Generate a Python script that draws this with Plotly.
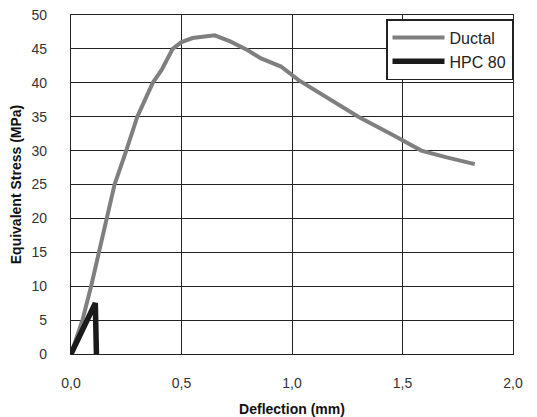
import plotly.graph_objects as go

# Data
ductal_x = [0, 0.052, 0.091, 0.126, 0.159, 0.197, 0.25, 0.30, 0.37, 0.41, 0.46, 0.50,
            0.55, 0.60, 0.65, 0.72, 0.80, 0.86, 0.95, 1.03, 1.15, 1.30, 1.45, 1.585,
            1.70, 1.827]
ductal_y = [0, 5, 10, 15, 20, 25, 30, 35, 40, 41.9, 45, 46.0,
            46.6, 46.8, 47.0, 46.1, 44.8, 43.6, 42.4, 40.4, 38.0, 35.0, 32.4, 30.0,
            29.0, 28.0]

hpc_x = [0, 0.11, 0.115]
hpc_y = [0, 7.5, 0]

x_ticks = [0, 0.5, 1.0, 1.5, 2.0]
y_ticks = [0, 5, 10, 15, 20, 25, 30, 35, 40, 45, 50]

FONT = "Liberation Sans, Arial, sans-serif"

fig = go.Figure()
fig.add_trace(go.Scatter(x=ductal_x, y=ductal_y, mode="lines", name="Ductal",
                         line=dict(color="#7f7f7f", width=4)))
fig.add_trace(go.Scatter(x=hpc_x, y=hpc_y, mode="lines", name="HPC 80",
                         line=dict(color="#1a1a1a", width=5.5)))

tick_font = dict(family=FONT, size=14, color="#333")
title_font = dict(family=FONT, size=14, color="#111")

fig.update_layout(
    width=529, height=409,
    margin=dict(l=63, r=24, t=7, b=63),
    paper_bgcolor="white", plot_bgcolor="white",
    separators=",.",
    font=tick_font,
    showlegend=True,
    legend=dict(x=1.0, y=0.988, xanchor="right", yanchor="top",
                bgcolor="white", bordercolor="#222", borderwidth=1.5,
                font=dict(family=FONT, size=16, color="#222"),
                itemwidth=52),
    xaxis=dict(range=[0, 2.0], tickvals=x_ticks, tickformat=".1f",
               showgrid=True, gridcolor="#222", gridwidth=1.2,
               showline=True, mirror=True, linecolor="#222", linewidth=1.2,
               zeroline=False, ticks="", ticklabelstandoff=16,
               tickfont=tick_font, automargin=False, ticklabeloverflow="allow",
               title=dict(text="<b>Deflection (mm)</b>", standoff=15, font=title_font)),
    yaxis=dict(range=[0, 50], tickvals=y_ticks,
               showgrid=True, gridcolor="#222", gridwidth=1.2,
               showline=True, mirror=True, linecolor="#222", linewidth=1.2,
               zeroline=False, ticks="", ticklabelstandoff=20,
               tickfont=tick_font, automargin=False, ticklabeloverflow="allow",
               title=dict(text="<b>Equivalent Stress (MPa)</b>", standoff=8, font=title_font)),
)

fig.write_html("out.html")
